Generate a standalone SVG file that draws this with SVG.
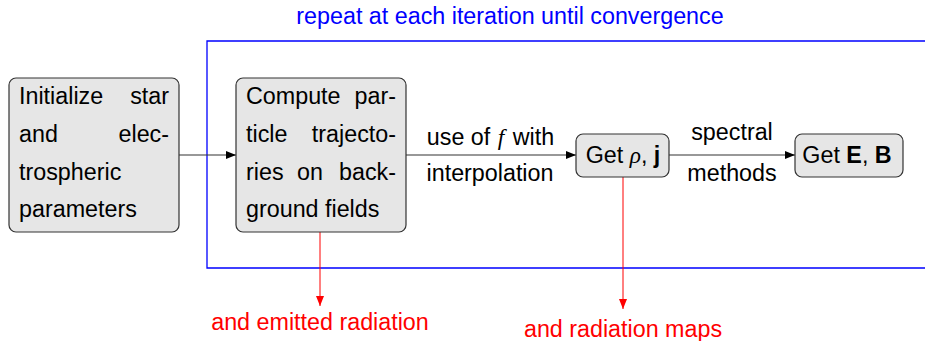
<svg xmlns="http://www.w3.org/2000/svg" width="925" height="341" viewBox="0 0 925 341">
<style>
text{font-family:"Liberation Sans",Arial,sans-serif;font-size:23.3px;fill:#000}
.node rect{fill:#e6e6e6;stroke:#333;stroke-width:1.2}
.blue{fill:#0000ff}
.red{fill:#ff0000}
.m{font-family:"Liberation Serif","Times New Roman",serif;font-style:italic}
.b{font-weight:bold}
.c{text-anchor:middle}
.e{text-anchor:end}
</style>
<defs>
<marker id="ak" markerWidth="10" markerHeight="8" refX="10" refY="4" orient="auto" markerUnits="userSpaceOnUse"><path d="M0,0 L10,4 L0,8 Z" fill="#000"/></marker>
<marker id="ar" markerWidth="10" markerHeight="8" refX="10" refY="4" orient="auto" markerUnits="userSpaceOnUse"><path d="M0,0 L10,4 L0,8 Z" fill="#ff0000"/></marker>
</defs>
<g id="loop">
<path d="M930,41 H207 V268 H930" fill="none" stroke="#0000ff" stroke-width="1.3"/>
<text class="blue c" x="510" y="24">repeat at each iteration until convergence</text>
</g>
<g id="connectors" fill="none">
<line x1="179" y1="155" x2="236" y2="155" stroke="#333" stroke-width="1.2" marker-end="url(#ak)"/>
<line x1="406" y1="155" x2="576" y2="155" stroke="#333" stroke-width="1.2" marker-end="url(#ak)"/>
<line x1="669" y1="155" x2="795" y2="155" stroke="#333" stroke-width="1.2" marker-end="url(#ak)"/>
<line x1="320" y1="232" x2="320" y2="306" stroke="#ff0000" stroke-width="1" marker-end="url(#ar)"/>
<line x1="623" y1="177" x2="623" y2="309" stroke="#ff0000" stroke-width="1" marker-end="url(#ar)"/>
</g>
<g id="labels">
<text class="c" x="490.5" y="145">use of <tspan class="m" dx="1">f</tspan> <tspan dx="2">with</tspan></text>
<text class="c" x="490" y="181">interpolation</text>
<text class="c" x="732" y="140">spectral</text>
<text class="c" x="732" y="181">methods</text>
<text class="red c" x="320" y="330">and emitted radiation</text>
<text class="red c" x="623" y="337">and radiation maps</text>
</g>
<g id="init" class="node">
<rect x="9" y="78" width="170" height="154" rx="7"/>
<text x="19" y="104">Initialize</text><text class="e" x="169" y="104">star</text>
<text x="19" y="142">and</text><text class="e" x="169" y="142">elec-</text>
<text x="19" y="180">trospheric</text>
<text x="19" y="217">parameters</text>
</g>
<g id="compute" class="node">
<rect x="236" y="78" width="170" height="154" rx="7"/>
<text x="246" y="104">Compute</text><text class="e" x="396" y="104">par-</text>
<text x="246" y="142">ticle</text><text class="e" x="396" y="142">trajecto-</text>
<text x="246" y="180">ries</text><text class="c" x="310" y="180">on</text><text class="e" x="396" y="180">back-</text>
<text x="246" y="217">ground fields</text>
</g>
<g id="getrho" class="node">
<rect x="576" y="134" width="93" height="43" rx="7"/>
<text class="c" x="623" y="163">Get <tspan class="m">ρ</tspan>, <tspan class="b">j</tspan></text>
</g>
<g id="getEB" class="node">
<rect x="795" y="134" width="108" height="43" rx="7"/>
<text class="c" x="847" y="163">Get <tspan class="b">E</tspan>, <tspan class="b">B</tspan></text>
</g>
</svg>
